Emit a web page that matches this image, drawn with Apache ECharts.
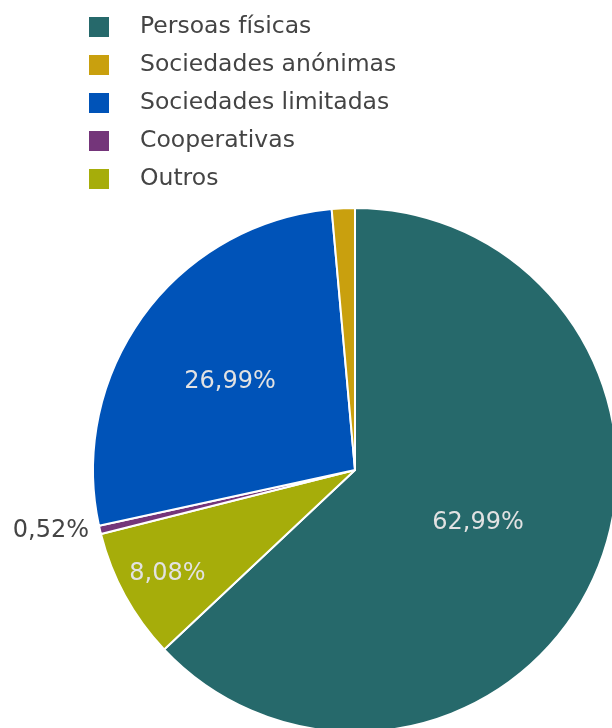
<!DOCTYPE html>
<html>
<head>
<meta charset="utf-8">
<script src="https://cdn.jsdelivr.net/npm/echarts@6/dist/echarts.min.js"></script>
<style>
  html, body { margin: 0; padding: 0; background: #fff; }
  #chart { width: 612px; height: 728px; }
</style>
</head>
<body>
<div id="chart"></div>
<script>
// datos (orde do pastel, en sentido horario dende arriba)
var categories = ['Persoas físicas', 'Outros', 'Cooperativas', 'Sociedades limitadas', 'Sociedades anónimas'];
var values = [62.99, 8.08, 0.52, 26.99, 1.42];
var legendOrder = ['Persoas físicas', 'Sociedades anónimas', 'Sociedades limitadas', 'Cooperativas', 'Outros'];

var colors = {
    'Persoas físicas': '#26696b',
    'Sociedades anónimas': '#c9a00e',
    'Sociedades limitadas': '#0053b8',
    'Cooperativas': '#74357a',
    'Outros': '#a6ad0a'
};
// axuste fino das etiquetas interiores
var labelStyle = {
    'Persoas físicas': {},
    'Outros': {offset: [-70, 39]},
    'Cooperativas': {position: 'outside', color: '#444'},
    'Sociedades limitadas': {offset: [-17, -9]},
    'Sociedades anónimas': {show: false}
};

var font = 'DejaVu Sans';

var pieData = categories.map(function (name, i) {
    return {
        name: name,
        value: values[i],
        itemStyle: {color: colors[name]},
        label: labelStyle[name]
    };
});

var myChart = echarts.init(document.getElementById('chart'));
var option = {
    animation: false,
    legend: {
        data: legendOrder,
        orient: 'vertical',
        left: 87,
        top: 15,
        padding: 0,
        icon: 'rect',
        itemWidth: 22,
        itemHeight: 22,
        itemGap: 14,
        selectedMode: false,
        textStyle: {
            fontFamily: font,
            fontSize: 23.5,
            lineHeight: 24,
            color: '#444',
            padding: [0, 0, 0, 25]
        }
    },
    series: [
        {
            type: 'pie',
            center: [355, 470],
            radius: 262,
            startAngle: 90,
            clockwise: true,
            avoidLabelOverlap: false,
            itemStyle: {
                borderColor: '#fff',
                borderWidth: 2
            },
            label: {
                show: true,
                position: 'inside',
                fontFamily: font,
                fontSize: 24,
                color: '#e2e2e2',
                formatter: function (p) {
                    return p.value.toFixed(2).replace('.', ',') + '%';
                }
            },
            labelLine: {
                show: false,
                length: 6,
                length2: 0
            },
            data: pieData
        }
    ]
};
myChart.setOption(option);
</script>
</body>
</html>
